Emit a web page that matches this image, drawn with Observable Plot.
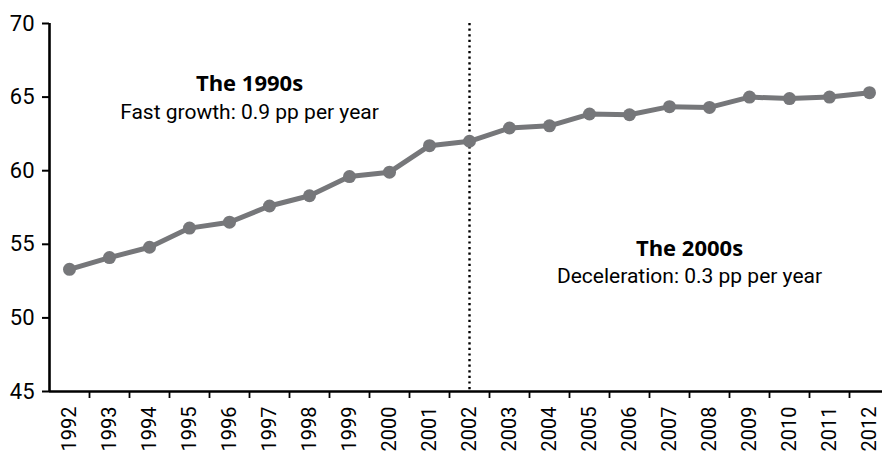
<!DOCTYPE html>
<html>
<head>
<meta charset="utf-8">
<script src="https://cdn.jsdelivr.net/npm/d3@7"></script>
<script src="https://cdn.jsdelivr.net/npm/@observablehq/plot@0.6"></script>
<style>
  html, body { margin: 0; padding: 0; background: #fff; }
  #chart svg { display: block; }
</style>
</head>
<body>
<div id="chart"></div>
<script>
const years = [1992, 1993, 1994, 1995, 1996, 1997, 1998, 1999, 2000, 2001, 2002,
               2003, 2004, 2005, 2006, 2007, 2008, 2009, 2010, 2011, 2012];
const values = [53.3, 54.1, 54.8, 56.1, 56.5, 57.6, 58.3, 59.6, 59.9, 61.7, 62.0,
                62.9, 63.05, 63.85, 63.8, 64.35, 64.3, 65.0, 64.9, 65.0, 65.3];
const yTicks = [45, 50, 55, 60, 65, 70];
const breakYear = 2002;
const headings = ["The 1990s", "The 2000s"];
const notes = ["Fast growth: 0.9 pp per year", "Deceleration: 0.3 pp per year"];
const noteX = [1996.5, 2007.5];
const headingY = [65.86, 54.68];
const noteY = [64.0, 52.85];

const data = years.map((year, i) => ({year, value: values[i]}));
const bounds = years.slice(0, -1).map(y => y + 0.5);
const headData = headings.map((t, i) => ({x: noteX[i], y: headingY[i], t}));
const noteData = notes.map((t, i) => ({x: noteX[i], y: noteY[i], t}));

const FONT = 'Roboto, "Liberation Sans", sans-serif';

const chart = Plot.plot({
  width: 882,
  height: 454,
  marginTop: 23,
  marginBottom: 63,
  marginLeft: 49,
  marginRight: 0,
  style: {fontFamily: FONT, fontSize: "21px", color: "#000", background: "#fff"},
  x: {domain: [years[0] - 0.5, years[years.length - 1] + 0.5], range: [49, 889]},
  y: {domain: [yTicks[0], yTicks[yTicks.length - 1]], range: [391, 23]},
  marks: [
    Plot.axisY({ticks: yTicks, tickSize: 7, tickPadding: 8, strokeWidth: 2, label: null, fontSize: 22}),
    Plot.axisX({ticks: bounds, tickSize: 7, strokeWidth: 1.8, tickFormat: () => "", label: null}),
    Plot.axisX({ticks: years, tickSize: 0, tickPadding: 15, tickRotate: -90, tickFormat: d => String(d), label: null, fontSize: 20}),
    Plot.ruleX([breakYear], {stroke: "#000", strokeWidth: 2.4, strokeDasharray: "2.2,3.4"}),
    Plot.line(data, {x: "year", y: "value", stroke: "#76777a", strokeWidth: 5}),
    Plot.dot(data, {x: "year", y: "value", r: 6.5, fill: "#76777a", stroke: "none"}),
    Plot.ruleX([years[0] - 0.5], {stroke: "#000", strokeWidth: 2.6}),
    Plot.ruleY([yTicks[0]], {stroke: "#000", strokeWidth: 2.6}),
    Plot.text(headData, {x: "x", y: "y", text: "t", fontWeight: "bold", fontSize: 22, fill: "#000", fontFamily: '"Open Sans", sans-serif'}),
    Plot.text(noteData, {x: "x", y: "y", text: "t", fontSize: 21, fill: "#000"})
  ]
});
document.getElementById("chart").appendChild(chart);
</script>
</body>
</html>
